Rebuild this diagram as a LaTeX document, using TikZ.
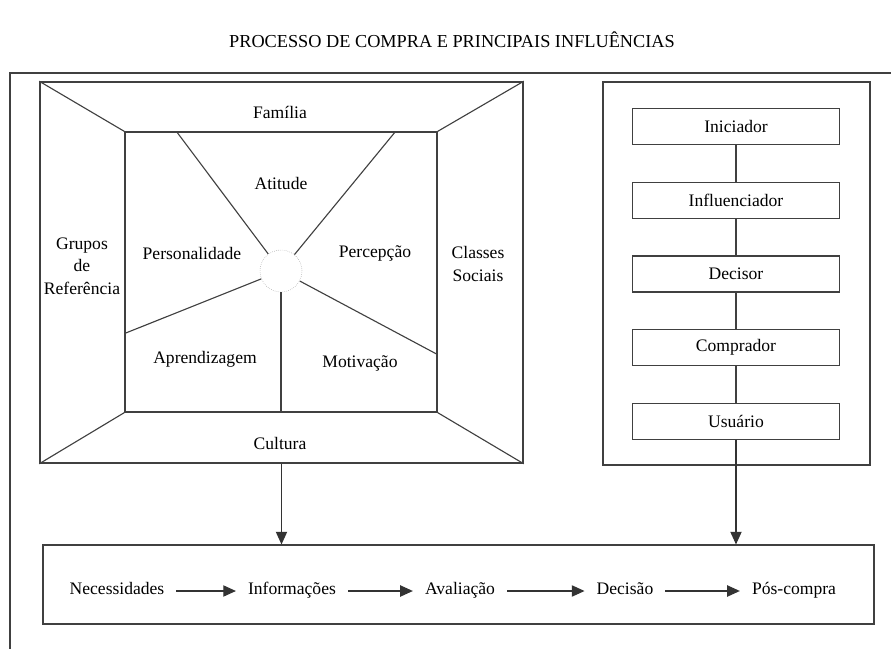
\documentclass[tikz,border=0pt]{standalone}
\usepackage{fontspec}
\setmainfont{Liberation Serif}
\usetikzlibrary{arrows.meta,positioning}

\begin{document}
\begin{tikzpicture}[
    lbl/.style={align=center, font=\fontsize{12.5}{16}\selectfont},
    etapa/.style={lbl, text height=1.55ex, text depth=0.45ex},
    panel/.style={draw=black!75, line width=1.1pt, inner sep=0pt},
    ln/.style={draw=black!75, line width=0.8pt},
    role/.style={draw=black!75, line width=0.8pt, minimum width=5.175cm, minimum height=0.9cm, font=\fontsize{12.5}{16}\selectfont},
    arr/.style={-{Triangle[length=9pt, width=8pt]}, line width=0.8pt, draw=black!80},
    node distance=0.915cm
]
\useasboundingbox (0,0) rectangle (22.275,-16.225);
\draw[ln] (0.25,-16.225) |- (22.275,-1.825);

\node[font=\fontsize{13}{15}\selectfont] (titulo) at (11.3,-1.0) {PROCESSO DE COMPRA E PRINCIPAIS INFLUÊNCIAS};

% influencias
\node[panel, minimum width=12.075cm, minimum height=9.525cm] (infl) at (7.0375,-6.8125) {};
\node[ln, inner sep=0pt, minimum width=7.8cm, minimum height=7cm] (nucleo) at (7.025,-6.8) {};
\node[circle, draw=black!35, densely dotted, minimum size=1.05cm] (c) at (7.025,-6.775) {};

\foreach \a in {north west, north east, south west, south east}
    \draw[ln] (infl.\a) -- (nucleo.\a);

\draw[ln] ([xshift=1.3cm]nucleo.north west) -- (c);
\draw[ln] ([xshift=-1.05cm]nucleo.north east) -- (c);
\draw[ln] ([yshift=1.975cm]nucleo.south west) -- (c);
\draw[ln] ([yshift=1.45cm]nucleo.south east) -- (c);
\draw[ln] (c) -- (c |- nucleo.south);

\node[lbl] (familia) at (7.0,-2.8) {Família};
\node[lbl] (cultura) at (7.0,-11.075) {Cultura};
\node[lbl] (grupos) at (2.05,-6.65) {Grupos\\de\\Referência};
\node[lbl] (classes) at (11.95,-6.6) {Classes\\Sociais};
\node[lbl] (atitude) at (7.025,-4.575) {Atitude};
\node[lbl] (person) at (4.8,-6.325) {Personalidade};
\node[lbl] (percep) at (9.375,-6.325) {Percepção};
\node[lbl] (aprend) at (5.125,-8.975) {Aprendizagem};
\node[lbl] (motiv) at (9.0,-9.075) {Motivação};

% papeis
\node[panel, minimum width=6.675cm, minimum height=9.575cm] (papeis) at (18.4125,-6.8375) {};
\node[role] (ini) at (18.4,-3.1625) {Iniciador};
\node[role, below=of ini] (infc) {Influenciador};
\node[role, below=of infc] (dec) {Decisor};
\node[role, below=of dec] (comp) {Comprador};
\node[role, below=of comp] (usu) {Usuário};

\draw[ln] (ini) -- (infc);
\draw[ln] (infc) -- (dec);
\draw[ln] (dec) -- (comp);
\draw[ln] (comp) -- (usu);

% processo
\node[ln, minimum width=20.775cm, minimum height=1.975cm] (proc) at (11.4625,-14.6125) {};
\node[etapa] (nec) at (2.925,-14.775) {Necessidades};
\node[etapa] (info) at (7.3,-14.775) {Informações};
\node[etapa] (aval) at (11.5,-14.775) {Avaliação};
\node[etapa] (decs) at (15.625,-14.775) {Decisão};
\node[etapa] (pos) at (19.85,-14.775) {Pós-compra};

\draw[arr, shorten <=0.18cm, shorten >=0.18cm] (nec) -- (info);
\draw[arr, shorten <=0.18cm, shorten >=0.18cm] (info) -- (aval);
\draw[arr, shorten <=0.18cm, shorten >=0.18cm] (aval) -- (decs);
\draw[arr, shorten <=0.18cm, shorten >=0.18cm] (decs) -- (pos);

\draw[arr] (infl.south) -- (infl.south |- proc.north);
\draw[arr] (usu.south) -- (usu.south |- proc.north);
\end{tikzpicture}
\end{document}
